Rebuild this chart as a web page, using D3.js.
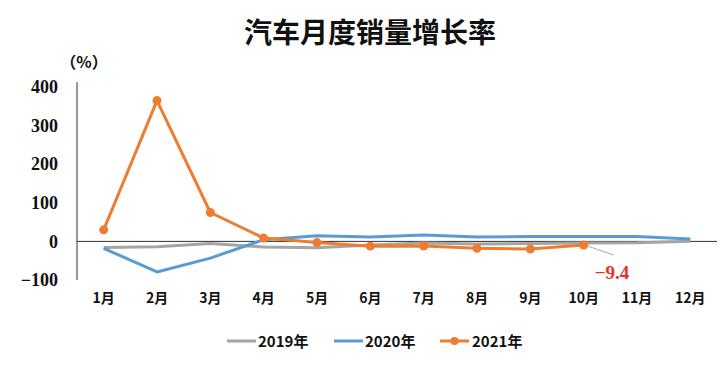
<!DOCTYPE html>
<html><head><meta charset="utf-8">
<script src="https://cdn.jsdelivr.net/npm/d3@7"></script>
<style>body{margin:0;background:#fff}svg{display:block}</style>
</head><body>
<script>
const months = ["1月","2月","3月","4月","5月","6月","7月","8月","9月","10月","11月","12月"];
const s2019 = [-15.8,-13.8,-5.2,-14.6,-16.4,-9.6,-4.3,-6.9,-5.2,-4.0,-3.6,0.1];
const s2020 = [-18.0,-79.1,-43.3,4.4,14.5,11.6,16.4,11.6,12.8,12.5,12.6,6.4];
const s2021 = [29.9,364.8,74.9,8.6,-3.1,-12.4,-11.9,-17.8,-19.6,-9.4];
const yTicks = [-100,0,100,200,300,400];
const seriesNames = ["2019年","2020年","2021年"];
const colors = ["#A5A5A5","#5B9BD5","#ED7D31"];
const title = "汽车月度销量增长率";
const unit = "（%）";
const note = "-9.4";

const W=724,H=368;
const svg=d3.select("body").append("svg").attr("width",W).attr("height",H);
const x=d3.scaleBand().domain(months).range([77,717]);
const y=d3.scaleLinear().domain([-100,400]).range([280,87]);
const cx=d=>x(d)+x.bandwidth()/2;

svg.append("text").attr("x",370).attr("y",43).attr("text-anchor","middle")
  .attr("font-family","Noto Sans CJK SC").attr("font-weight","bold").attr("font-size",28)
  .attr("fill","#111").text(title);
svg.append("text").attr("x",84).attr("y",68).attr("text-anchor","middle")
  .attr("font-family","Noto Sans CJK SC").attr("font-weight","bold").attr("font-size",16)
  .attr("fill","#111").text(unit);

// y axis
const ya=svg.append("g").attr("transform","translate(77,0)")
  .call(d3.axisLeft(y).tickValues(yTicks).tickSize(0).tickPadding(19));
ya.select(".domain").attr("stroke","#333").attr("stroke-width",1).attr("d","M0,82V280");
ya.selectAll("text").attr("font-family","Liberation Serif").attr("font-weight","bold")
  .attr("font-size",18).attr("fill","#111");

// zero line
svg.append("line").attr("x1",77).attr("x2",717).attr("y1",y(0)).attr("y2",y(0))
  .attr("stroke","#333").attr("stroke-width",1);

// x labels
const xa=svg.append("g").attr("transform","translate(0,280)")
  .call(d3.axisBottom(x).tickSize(0).tickPadding(13));
xa.select(".domain").remove();
xa.selectAll("text").attr("font-family","Noto Sans CJK SC").attr("font-weight","bold")
  .attr("font-size",14).attr("fill","#111");

const line=d3.line().x((d,i)=>cx(months[i])).y(d=>y(d));
[s2019,s2020,s2021].forEach((s,k)=>{
  svg.append("path").datum(s).attr("d",line).attr("fill","none")
    .attr("stroke",colors[k]).attr("stroke-width",3).attr("stroke-linejoin","round");
});
svg.selectAll("circle.d21").data(s2021).enter().append("circle")
  .attr("cx",(d,i)=>cx(months[i])).attr("cy",d=>y(d)).attr("r",4.5).attr("fill",colors[2]);

// annotation
const lx=cx(months[9]), ly=y(-9.4);
svg.append("line").attr("x1",lx+4).attr("y1",ly+1).attr("x2",lx+30).attr("y2",ly+10)
  .attr("stroke","#aaa").attr("stroke-width",1);
svg.append("text").attr("x",lx+11).attr("y",ly+34).attr("font-family","Liberation Serif")
  .attr("font-weight","bold").attr("font-size",19).attr("fill","#E8302A").text("−9.4");

// legend
const lg=[{x:227,tx:258},{x:334,tx:365},{x:440,tx:472}];
lg.forEach((p,k)=>{
  svg.append("line").attr("x1",p.x).attr("x2",p.x+29).attr("y1",341).attr("y2",341)
    .attr("stroke",colors[k]).attr("stroke-width",3);
  if(k===2) svg.append("circle").attr("cx",p.x+14.5).attr("cy",341).attr("r",4).attr("fill",colors[k]);
  svg.append("text").attr("x",p.tx).attr("y",347).attr("font-family","Noto Sans CJK SC")
    .attr("font-weight","bold").attr("font-size",15).attr("fill","#111").text(seriesNames[k]);
});
</script>
</body></html>
